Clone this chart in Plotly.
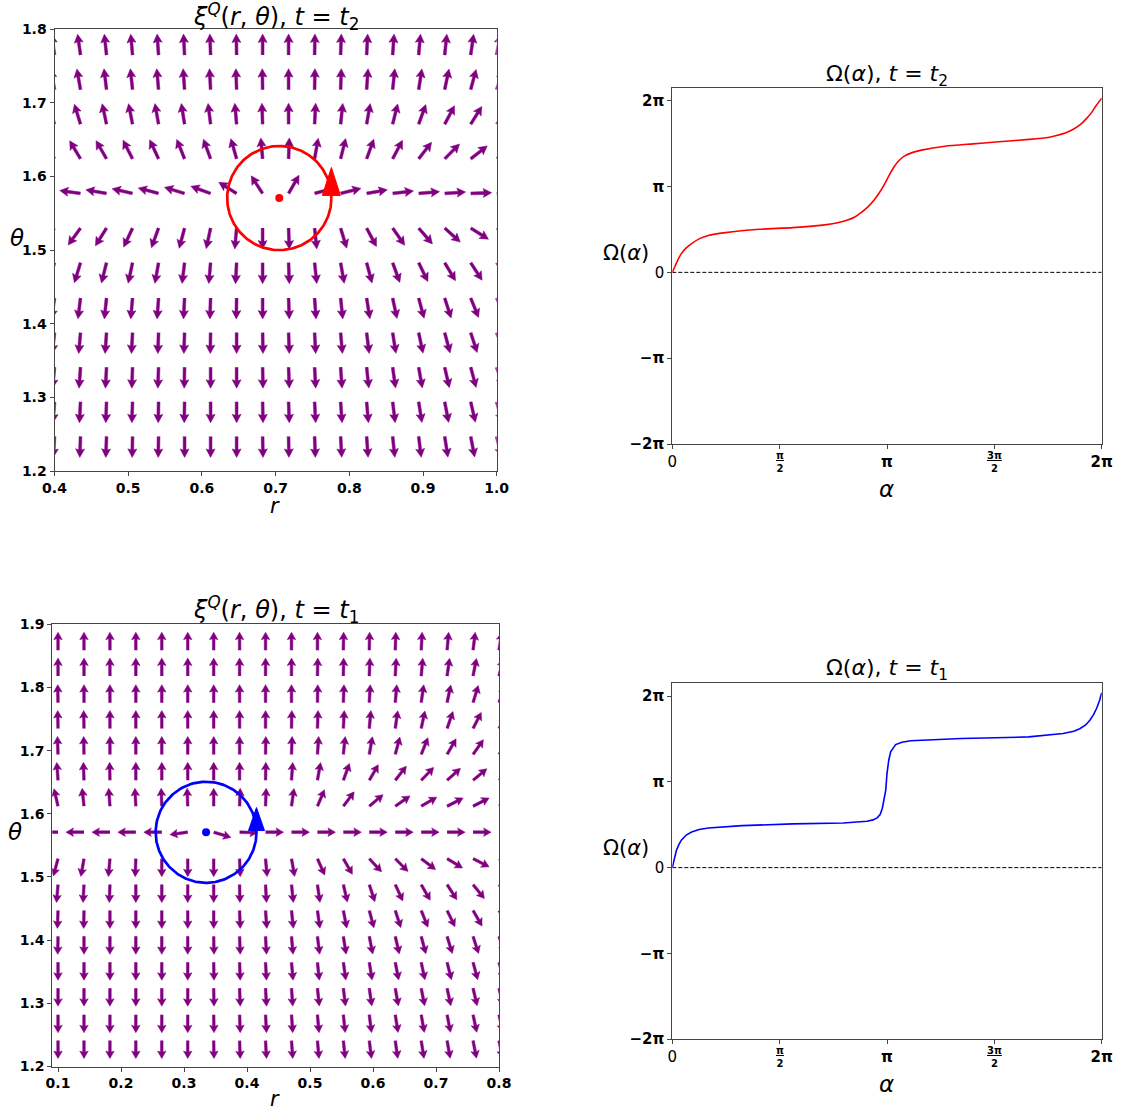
import numpy as np
import plotly.graph_objects as go

# the page margin is removed (post_script below), so the figure fills the window
OFF = 0
W, H = 1121, 1113
PI = np.pi

# ---------------- DATA ----------------
# Top quiver (t = t2): grid columns (r) and rows (theta), arrow angles in degrees
r_cols_top = [0.4000, 0.4353, 0.4706, 0.5059, 0.5412, 0.5765, 0.6118, 0.6471, 0.6824,
              0.7176, 0.7529, 0.7882, 0.8235, 0.8588, 0.8941, 0.9294, 0.9647, 1.0000]
theta_rows_top = [1.247, 1.294, 1.341, 1.388, 1.435, 1.483, 1.530, 1.577,
                  1.624, 1.671, 1.718, 1.765]
angles_top = [
    [267, 268, 268, 269, 269, 270, 270, 270, 271, 271, 272, 273, 274, 276, 277, 279, 281, 283],
    [266, 267, 268, 268, 269, 269, 270, 270, 271, 272, 273, 274, 275, 277, 279, 281, 283, 285],
    [265, 266, 267, 268, 268, 269, 270, 270, 271, 272, 273, 274, 276, 278, 280, 283, 285, 288],
    [264, 265, 266, 267, 268, 268, 269, 270, 271, 272, 273, 275, 277, 279, 282, 285, 288, 291],
    [262, 263, 264, 265, 266, 267, 268, 269, 270, 272, 274, 276, 279, 282, 285, 288, 292, 295],
    [252, 253, 256, 258, 260, 263, 265, 267, 270, 272, 276, 280, 285, 290, 296, 301, 303, 306],
    [230, 234, 238, 245, 250, 255, 258, 265, 270, 272, 276, 287, 298, 305, 311, 318, 328, 332],
    [175, 172, 170, 167, 165, 163, 160, 148, 123, 60, 15, 14, 10, 7, 5, 4, 2, 1],
    [122, 121, 120, 117, 115, 112, 110, 106, 95, 88, 80, 76, 70, 62, 52, 45, 38, 34],
    [108, 107, 102, 101, 100, 99, 97, 95, 92, 90, 87, 84, 80, 76, 70, 62, 58, 54],
    [100, 100, 97, 96, 95, 94, 93, 92, 91, 90, 89, 88, 86, 84, 81, 78, 75, 72],
    [98, 98, 96, 95, 94, 93, 92, 91, 90, 90, 89, 88, 87, 86, 85, 84, 82, 80],
]
center_top = (0.705, 1.5708)
radius_top = 0.0707

# Bottom quiver (t = t1)
r_cols_bot = [0.1000, 0.1412, 0.1824, 0.2235, 0.2647, 0.3059, 0.3471, 0.3882, 0.4294,
              0.4706, 0.5118, 0.5529, 0.5941, 0.6353, 0.6765, 0.7176, 0.7588, 0.8000]
theta_rows_bot = [1.241, 1.282, 1.324, 1.365, 1.406, 1.447, 1.488, 1.529, 1.571,
                  1.612, 1.653, 1.694, 1.735, 1.776, 1.818, 1.859]
angles_bot = [
    [270, 270, 270, 270, 270, 270, 271, 272, 273, 274, 275, 276, 277, 278, 279, 280, 281, 282],
    [270, 270, 270, 270, 270, 270, 271, 272, 273, 274, 275, 276, 277, 279, 280, 281, 282, 283],
    [270, 270, 270, 270, 270, 270, 271, 272, 273, 274, 276, 277, 278, 280, 281, 282, 283, 284],
    [270, 270, 270, 270, 270, 270, 271, 272, 273, 275, 276, 278, 279, 281, 282, 284, 285, 287],
    [269, 270, 270, 270, 270, 270, 271, 272, 273, 275, 277, 279, 281, 283, 285, 287, 288, 290],
    [268, 269, 270, 270, 270, 270, 270, 272, 274, 276, 278, 281, 285, 288, 292, 296, 300, 303],
    [265, 267, 268, 270, 270, 270, 270, 271, 273, 276, 278, 283, 288, 295, 300, 303, 309, 312],
    [255, 260, 265, 268, 270, 270, 270, 272, 275, 280, 294, 300, 313, 315, 323, 329, 333, 336],
    [180, 180, 180, 180, 180, 188, 343, 358, 0, 0, 0, 0, 0, 0, 0, 0, 0, 0],
    [103, 96, 94, 93, 92, 92, 90, 88, 88, 82, 67, 53, 40, 35, 30, 27, 27, 25],
    [94, 92, 91, 90, 90, 90, 90, 90, 89, 86, 80, 70, 60, 52, 46, 42, 40, 37],
    [92, 91, 90, 90, 90, 90, 90, 90, 89, 88, 86, 84, 80, 75, 68, 60, 55, 52],
    [91, 91, 90, 90, 90, 90, 90, 90, 90, 89, 88, 87, 85, 82, 78, 71, 63, 60],
    [91, 90, 90, 90, 90, 90, 90, 90, 90, 90, 89, 88, 87, 85, 82, 78, 73, 70],
    [90, 90, 90, 90, 90, 90, 90, 90, 90, 90, 89, 89, 88, 87, 85, 82, 79, 76],
    [90, 90, 90, 90, 90, 90, 90, 90, 90, 90, 90, 89, 89, 88, 87, 85, 83, 81],
]
center_bot = (0.335, 1.5708)
radius_bot = 0.08

# Omega curves (alpha and Omega in units of pi)
alpha_t2 = [0, 0.011, 0.025, 0.042, 0.065, 0.09, 0.125, 0.168, 0.247, 0.404, 0.561, 0.719,
            0.77, 0.813, 0.85, 0.876, 0.91, 0.939, 0.965, 0.986, 1.01, 1.033, 1.055, 1.08,
            1.12, 1.16, 1.27, 1.4, 1.505, 1.662, 1.75, 1.79, 1.83, 1.866, 1.9, 1.93, 1.955,
            1.976, 2.0]
omega_t2 = [0, 0.062, 0.14, 0.218, 0.285, 0.335, 0.39, 0.43, 0.463, 0.502, 0.521, 0.556,
            0.578, 0.607, 0.645, 0.69, 0.76, 0.84, 0.93, 1.016, 1.13, 1.23, 1.3, 1.354,
            1.398, 1.424, 1.47, 1.497, 1.518, 1.549, 1.572, 1.595, 1.625, 1.665, 1.72, 1.794,
            1.87, 1.95, 2.03]
alpha_t1 = [0, 0.008, 0.019, 0.03, 0.042, 0.065, 0.09, 0.125, 0.168, 0.325, 0.561, 0.797,
            0.87, 0.907, 0.935, 0.954, 0.968, 0.978, 0.994, 1.0, 1.008, 1.017, 1.04, 1.07,
            1.11, 1.347, 1.66, 1.82, 1.87, 1.898, 1.925, 1.945, 1.962, 1.976, 1.99, 2.0]
omega_t1 = [0, 0.1, 0.2, 0.265, 0.32, 0.38, 0.416, 0.445, 0.463, 0.49, 0.51, 0.52,
            0.528, 0.54, 0.557, 0.58, 0.62, 0.69, 0.9, 1.1, 1.25, 1.35, 1.436, 1.463,
            1.48, 1.506, 1.525, 1.564, 1.59, 1.62, 1.665, 1.72, 1.785, 1.856, 1.95, 2.04]

# tick labels
quiver_top_xticks = [0.4, 0.5, 0.6, 0.7, 0.8, 0.9, 1.0]
quiver_top_yticks = [1.2, 1.3, 1.4, 1.5, 1.6, 1.7, 1.8]
quiver_bot_xticks = [0.1, 0.2, 0.3, 0.4, 0.5, 0.6, 0.7, 0.8]
quiver_bot_yticks = [1.2, 1.3, 1.4, 1.5, 1.6, 1.7, 1.8, 1.9]
omega_yticks_pi = [-2, -1, 0, 1, 2]
omega_yticktext = ["<b>\u22122\u03c0</b>", "<b>\u2212\u03c0</b>", "0", "<b>\u03c0</b>", "<b>2\u03c0</b>"]
omega_xticks_pi = [0, 0.5, 1, 1.5, 2]
omega_xticktext = ["0", " ", "<b>\u03c0</b>", " ", "<b>2\u03c0</b>"]
frac_ticks_pi = [0.5, 1.5]
frac_text = ["<b><u>\u03c0</u><br>2</b>", "<b><u>3\u03c0</u><br>2</b>"]

# ---------------- LAYOUT GEOMETRY (window pixels) ----------------
def xd(a, b):
    return [(a - OFF) / W, (b - OFF) / W]

def yd(top, bottom):
    return [1 - (bottom - OFF) / H, 1 - (top - OFF) / H]

dom = {
    "TL": (xd(54.5, 496.7), yd(29.3, 471.0), [0.4, 1.0], [1.2, 1.8]),
    "TR": (xd(672.3, 1101.7), yd(87.7, 444.0), [0, 2 * PI], [-2 * PI, 2.1515 * PI]),
    "BL": (xd(52.3, 499.0), yd(624.3, 1066.5), [0.0909, 0.8], [1.2, 1.9]),
    "BR": (xd(672.3, 1101.7), yd(682.5, 1039.0), [0, 2 * PI], [-2 * PI, 2.16 * PI]),
}

def scales(key):
    xdom, ydom, xr, yr = dom[key]
    sx = (xdom[1] - xdom[0]) * W / (xr[1] - xr[0])
    sy = (ydom[1] - ydom[0]) * H / (yr[1] - yr[0])
    return sx, sy

PURPLE = "#800080"
FONT = "DejaVu Sans"

def quiver_trace(xs, ys, angs, key, axx, axy, L, w, hw, hl, hal):
    sx, sy = scales(key)
    px, py = [], []
    for j, yv in enumerate(ys):
        for k, xv in enumerate(xs):
            a = np.deg2rad(angs[j][k])
            u = np.array([np.cos(a), np.sin(a)])
            v = np.array([-np.sin(a), np.cos(a)])
            pts = [-w / 2 * v,
                   (L - hal) * u - w / 2 * v,
                   (L - hl) * u - hw / 2 * v,
                   L * u,
                   (L - hl) * u + hw / 2 * v,
                   (L - hal) * u + w / 2 * v,
                   w / 2 * v]
            for p in pts:
                px.append(xv + p[0] / sx)
                py.append(yv + p[1] / sy)
            px.append(None)
            py.append(None)
    return go.Scatter(x=px, y=py, mode="lines", fill="toself", fillcolor=PURPLE,
                      line=dict(color=PURPLE, width=0.5), xaxis=axx, yaxis=axy,
                      hoverinfo="skip", showlegend=False)

def circle_traces(center, radius, color, key, axx, axy, tri_w, tri_h, tri_up):
    sx, sy = scales(key)
    t = np.linspace(0, 2 * PI, 200)
    cx, cy = center
    circ = go.Scatter(x=cx + radius * np.cos(t), y=cy + radius * np.sin(t), mode="lines",
                      line=dict(color=color, width=2.7), xaxis=axx, yaxis=axy,
                      hoverinfo="skip", showlegend=False)
    dot = go.Scatter(x=[cx], y=[cy], mode="markers", marker=dict(color=color, size=8),
                     xaxis=axx, yaxis=axy, hoverinfo="skip", showlegend=False)
    bx = cx + radius
    by = cy + tri_up / sy
    tri = go.Scatter(x=[bx - tri_w / 2 / sx, bx + tri_w / 2 / sx, bx, bx - tri_w / 2 / sx],
                     y=[by, by, by + tri_h / sy, by], mode="lines", fill="toself",
                     fillcolor=color, line=dict(color=color, width=1), xaxis=axx, yaxis=axy,
                     hoverinfo="skip", showlegend=False)
    return [circ, dot, tri]

fig = go.Figure()

fig.add_trace(quiver_trace(r_cols_top, theta_rows_top, angles_top, "TL", "x", "y",
                           L=21, w=2.8, hw=9, hl=8.5, hal=7.5))
for tr in circle_traces(center_top, radius_top, "red", "TL", "x", "y", 18, 28, 2.6):
    fig.add_trace(tr)

fig.add_trace(quiver_trace(r_cols_bot, theta_rows_bot, angles_bot, "BL", "x3", "y3",
                           L=18, w=2.6, hw=8.5, hl=7.5, hal=6.5))
for tr in circle_traces(center_bot, radius_bot, "blue", "BL", "x3", "y3", 16, 23, 1.7):
    fig.add_trace(tr)

# Omega curves
for (al, om, col, axx, axy) in [(alpha_t2, omega_t2, "red", "x2", "y2"),
                                (alpha_t1, omega_t1, "blue", "x4", "y4")]:
    fig.add_trace(go.Scatter(x=[0, 2 * PI], y=[0, 0], mode="lines",
                             line=dict(color="black", width=1, dash="4px,2px"),
                             xaxis=axx, yaxis=axy, hoverinfo="skip", showlegend=False))
    fig.add_trace(go.Scatter(x=np.array(al) * PI, y=np.array(om) * PI, mode="lines",
                             line=dict(color=col, width=1.6,
                                       shape="spline" if col == "red" else "linear",
                                       smoothing=0.6),
                             xaxis=axx, yaxis=axy, hoverinfo="skip", showlegend=False))

LINEC = "#444"
common = dict(showgrid=False, zeroline=False, showline=True, mirror=True, linecolor=LINEC,
              linewidth=1, ticks="outside", ticklen=4, tickcolor=LINEC, tickwidth=1,
              automargin=False, fixedrange=True)
qfont = dict(family=FONT, size=14, color="black", weight="bold")
ofont = dict(family=FONT, size=15, color="black")

def fmt(v):
    return "<b>%.1f</b>" % v

layout = dict(
    width=W, height=H, autosize=False, margin=dict(l=0, r=0, t=0, b=0, pad=0),
    paper_bgcolor="white", plot_bgcolor="white", showlegend=False,
    xaxis=dict(domain=dom["TL"][0], range=dom["TL"][2], anchor="y", tickvals=quiver_top_xticks,
               ticktext=[fmt(v) for v in quiver_top_xticks], tickfont=qfont, **common),
    yaxis=dict(domain=dom["TL"][1], range=dom["TL"][3], anchor="x", tickvals=quiver_top_yticks,
               ticktext=[fmt(v) for v in quiver_top_yticks], tickfont=qfont, **common),
    xaxis2=dict(domain=dom["TR"][0], range=dom["TR"][2], anchor="y2",
                tickvals=[v * PI for v in omega_xticks_pi], ticktext=omega_xticktext,
                tickfont=ofont, **common),
    yaxis2=dict(domain=dom["TR"][1], range=dom["TR"][3], anchor="x2",
                tickvals=[v * PI for v in omega_yticks_pi], ticktext=omega_yticktext,
                tickfont=ofont, **common),
    xaxis3=dict(domain=dom["BL"][0], range=dom["BL"][2], anchor="y3", tickvals=quiver_bot_xticks,
                ticktext=[fmt(v) for v in quiver_bot_xticks], tickfont=qfont, **common),
    yaxis3=dict(domain=dom["BL"][1], range=dom["BL"][3], anchor="x3", tickvals=quiver_bot_yticks,
                ticktext=[fmt(v) for v in quiver_bot_yticks], tickfont=qfont, **common),
    xaxis4=dict(domain=dom["BR"][0], range=dom["BR"][2], anchor="y4",
                tickvals=[v * PI for v in omega_xticks_pi], ticktext=omega_xticktext,
                tickfont=ofont, **common),
    yaxis4=dict(domain=dom["BR"][1], range=dom["BR"][3], anchor="x4",
                tickvals=[v * PI for v in omega_yticks_pi], ticktext=omega_yticktext,
                tickfont=ofont, **common),
)
fig.update_layout(**layout)

def ann(text, x, y, size):
    fig.add_annotation(text=text, x=(x - OFF) / W, y=1 - (y - OFF) / H, xref="paper",
                       yref="paper", xanchor="center", yanchor="middle", showarrow=False,
                       font=dict(family=FONT, size=size, color="black"))

# fraction tick labels on the Omega axes
for axx, ypx in [("x2", 462), ("x4", 1057)]:
    for v, txt in zip(frac_ticks_pi, frac_text):
        fig.add_annotation(text=txt, x=v * PI, y=1 - (ypx - OFF) / H, xref=axx, yref="paper",
                           xanchor="center", yanchor="middle", showarrow=False,
                           font=dict(family=FONT, size=10, color="black"))

title_q2 = "<i>\u03be</i><sup><i>Q</i></sup>(<i>r</i>, <i>\u03b8</i>), <i>t</i> = <i>t</i><sub>2</sub>"
title_q1 = "<i>\u03be</i><sup><i>Q</i></sup>(<i>r</i>, <i>\u03b8</i>), <i>t</i> = <i>t</i><sub>1</sub>"
title_o2 = "\u03a9(<i>\u03b1</i>), <i>t</i> = <i>t</i><sub>2</sub>"
title_o1 = "\u03a9(<i>\u03b1</i>), <i>t</i> = <i>t</i><sub>1</sub>"

ann(title_q2, 276, 16, 24)
ann(title_o2, 887, 76, 22)
ann(title_q1, 276, 609, 24)
ann(title_o1, 887, 669, 22)
ann("<i>r</i>", 275, 506, 21)
ann("<i>\u03b8</i>", 17, 238, 23)
ann("\u03a9(<i>\u03b1</i>)", 625.5, 253, 21)
ann("<i>\u03b1</i>", 886.5, 489, 23)
ann("<i>r</i>", 275, 1099, 21)
ann("<i>\u03b8</i>", 15, 832, 23)
ann("\u03a9(<i>\u03b1</i>)", 625.5, 848, 21)
ann("<i>\u03b1</i>", 886.5, 1084, 23)

fig.write_html("out.html", config={"responsive": False, "displayModeBar": False},
               post_script="document.body.style.margin='0';document.body.style.overflow='hidden';")
